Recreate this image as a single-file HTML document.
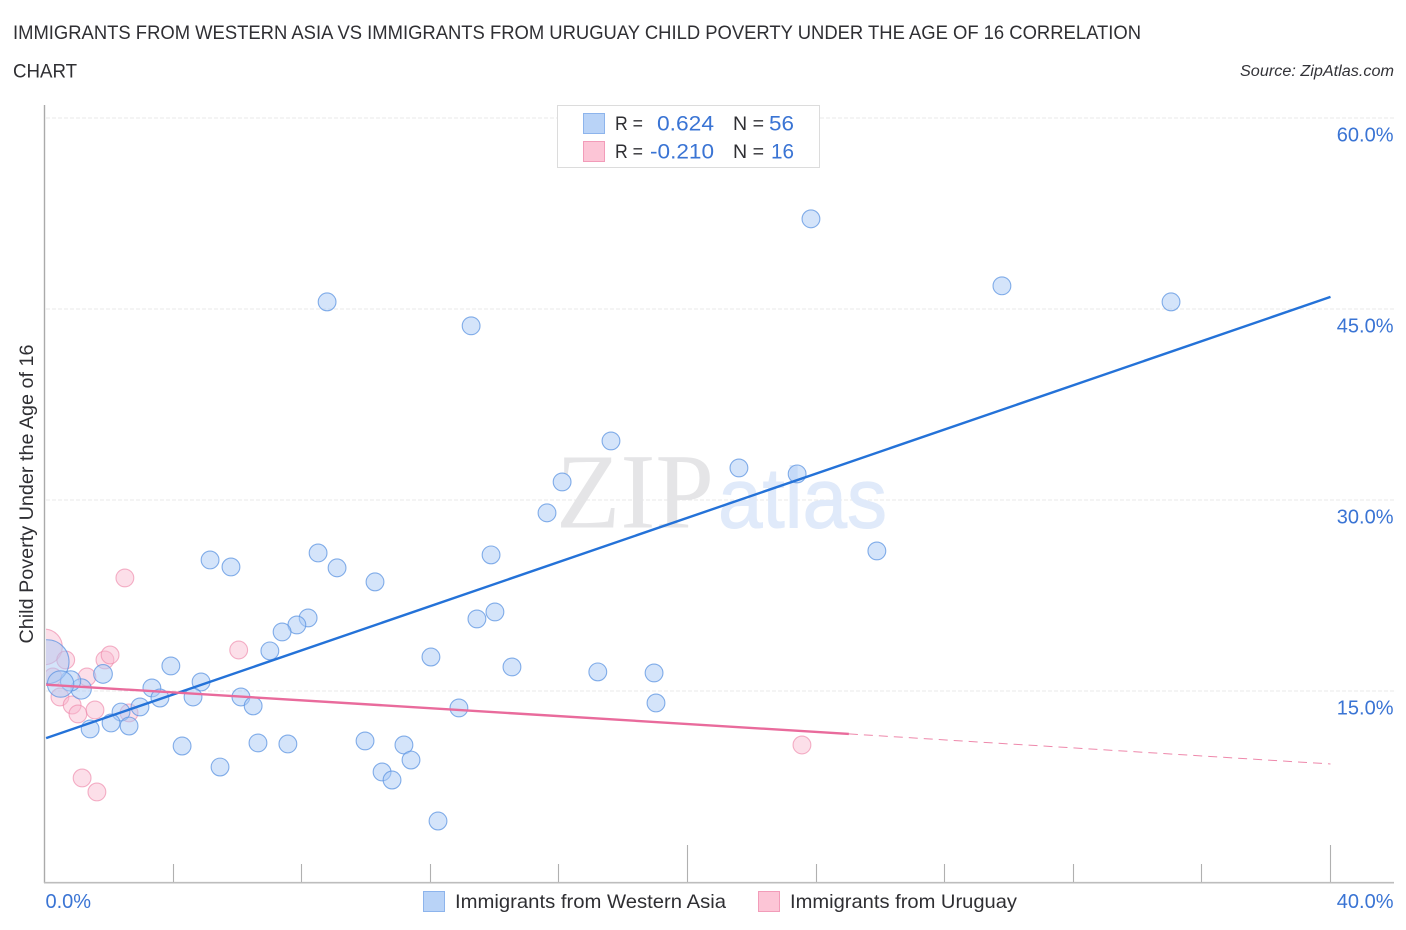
<!DOCTYPE html>
<html lang="en">
<head>
<meta charset="utf-8">
<title>Child Poverty Under the Age of 16 Correlation Chart</title>
<style>
html,body{margin:0;padding:0;background:#fff;}
body{width:1406px;height:930px;overflow:hidden;}
svg{display:block;font-family:"Liberation Sans",sans-serif;}
</style>
</head>
<body>
<svg id="chart" xmlns="http://www.w3.org/2000/svg" width="1406" height="930" viewBox="0 0 1406 930">
  <defs>
    <clipPath id="plot-clip"><rect x="46" y="100" width="1300" height="782"/></clipPath>
  </defs>
  <rect x="0" y="0" width="1406" height="930" fill="#ffffff"/>
  <text x="13" y="39" font-size="19.5" fill="#2f2f33" textLength="1128" lengthAdjust="spacingAndGlyphs">IMMIGRANTS FROM WESTERN ASIA VS IMMIGRANTS FROM URUGUAY CHILD POVERTY UNDER THE AGE OF 16 CORRELATION</text>
  <text x="13" y="77.5" font-size="19.5" fill="#2f2f33" textLength="64" lengthAdjust="spacingAndGlyphs">CHART</text>
  <text x="1394" y="76" font-size="15.5" font-style="italic" fill="#333338" text-anchor="end" textLength="154" lengthAdjust="spacingAndGlyphs">Source: ZipAtlas.com</text>

  <g id="grid"></g>

  <g>
    <text x="556" y="527.5" font-family="'Liberation Serif',serif" font-size="107" fill="#e5e5e7" textLength="158" lengthAdjust="spacingAndGlyphs">ZIP</text>
    <text x="718" y="527.5" font-size="85" fill="#e0eafa" stroke="#e0eafa" stroke-width="1" textLength="169" lengthAdjust="spacingAndGlyphs">atlas</text>
  </g>

  <g id="axes"></g>
  <g id="points" clip-path="url(#plot-clip)"></g>
  <g id="trends"></g>
  <g id="tick-labels"></g>

  <text transform="translate(33,494) rotate(-90)" font-size="19" fill="#2f2f33" text-anchor="middle" textLength="299" lengthAdjust="spacingAndGlyphs">Child Poverty Under the Age of 16</text>

  <g>
    <rect x="557.5" y="105.5" width="262" height="62" fill="#ffffff" stroke="#dcdcdc" stroke-width="1"/>
    <rect x="583.5" y="113.5" width="21" height="20" fill="#b9d3f7" stroke="#8db4ec"/>
    <rect x="583.5" y="141.5" width="21" height="20" fill="#fcc5d6" stroke="#f29cb9"/>
    <text x="615" y="130" font-size="19.5" fill="#2f2f33" textLength="28" lengthAdjust="spacingAndGlyphs">R =</text>
    <text x="714" y="130.5" font-size="21.5" fill="#3a74d4" text-anchor="end" textLength="57" lengthAdjust="spacingAndGlyphs">0.624</text>
    <text x="733" y="130" font-size="19.5" fill="#2f2f33" textLength="31" lengthAdjust="spacingAndGlyphs">N =</text>
    <text x="794" y="130.5" font-size="21.5" fill="#3a74d4" text-anchor="end" textLength="25" lengthAdjust="spacingAndGlyphs">56</text>
    <text x="615" y="158" font-size="19.5" fill="#2f2f33" textLength="28" lengthAdjust="spacingAndGlyphs">R =</text>
    <text x="714" y="158.5" font-size="21.5" fill="#3a74d4" text-anchor="end" textLength="64" lengthAdjust="spacingAndGlyphs">-0.210</text>
    <text x="733" y="158" font-size="19.5" fill="#2f2f33" textLength="31" lengthAdjust="spacingAndGlyphs">N =</text>
    <text x="794" y="158.5" font-size="21.5" fill="#3a74d4" text-anchor="end" textLength="23" lengthAdjust="spacingAndGlyphs">16</text>
  </g>

  <g>
    <rect x="423.5" y="891.5" width="21" height="20" fill="#b9d3f7" stroke="#8db4ec"/>
    <text x="455" y="908" font-size="19.5" fill="#2f2f33" textLength="271" lengthAdjust="spacingAndGlyphs">Immigrants from Western Asia</text>
    <rect x="758.5" y="891.5" width="21" height="20" fill="#fcc5d6" stroke="#f29cb9"/>
    <text x="790" y="908" font-size="19.5" fill="#2f2f33" textLength="227" lengthAdjust="spacingAndGlyphs">Immigrants from Uruguay</text>
  </g>
</svg>

<script>
// Chart data (x and y in percent; weights are relative sample sizes)
const xTicks = [4, 8, 12, 16, 20, 24, 28, 32, 36, 40];
const xMajorTicks = [20, 40];
const xTickLabels = ["0.0%", "40.0%"];
const xLabelValues = [0, 40];
const yGridValues = [15, 30, 45, 60];
const yTickLabels = ["15.0%", "30.0%", "45.0%", "60.0%"];

const westernAsiaX = [23.84,29.78,35.04,8.79,13.27,17.62,21.60,23.41,16.10,15.63,25.89,13.89,8.51,5.15,5.80,9.10,10.28,14.01,13.45,8.20,7.85,7.39,7.01,12.02,14.54,17.21,18.96,3.93,1.82,4.87,3.34,1.14,0.81,4.62,3.59,6.11,6.49,2.97,2.38,12.89,19.02,2.07,2.63,1.42,4.28,6.64,7.57,9.97,11.18,11.40,10.50,10.81,5.46,12.24,0.08,0.50];
const westernAsiaY = [52.08,46.82,45.56,45.56,43.68,34.64,32.52,32.05,31.42,28.99,26.00,25.69,25.84,25.29,24.74,24.67,23.57,21.21,20.66,20.74,20.19,19.64,18.15,17.67,16.89,16.50,16.42,16.97,16.34,15.71,15.24,15.16,15.79,14.53,14.45,14.53,13.83,13.75,13.35,13.67,14.06,12.49,12.25,12.02,10.68,10.92,10.84,11.08,10.76,9.58,8.64,8.01,9.03,4.79,17.30,15.55];
const westernAsiaWeight = [1,1,1,1,1,1,1,1,1,1,1,1,1,1,1,1,1,1,1,1,1,1,1,1,1,1,1,1,1.1,1,1,1.3,1.3,1,1,1,1,1,1,1,1,1,1,1,1,1,1,1,1,1,1,1,1,1,6.1,2.2];

const uruguayX = [0.00,0.66,0.26,0.48,1.32,0.86,1.04,1.57,2.63,1.88,2.04,6.04,1.17,1.63,2.50,23.56];
const uruguayY = [18.46,17.44,16.10,14.53,16.10,13.90,13.20,13.51,13.28,17.44,17.83,18.22,8.17,7.07,23.88,10.76];
const uruguayWeight = [4,1,1,1,1,1,1,1,1,1,1,1,1,1,1,1];

const westernAsiaTrendX = [0.05, 40];
const westernAsiaTrendY = [11.3, 45.95];
const uruguayTrendX = [0.05, 25.02];
const uruguayTrendY = [15.5, 11.63];
const uruguayDashX = [25.02, 40];
const uruguayDashY = [11.63, 9.27];

// Axis functions
function xScale(v) { return 44.5 + v * 32.15; }
function yScale(v) { return 882 - v * 12.733; }
function radius(w) { return 8.9 * Math.sqrt(w); }

const NS = "http://www.w3.org/2000/svg";
function make(tag, attrs, parent) {
  const el = document.createElementNS(NS, tag);
  for (const k in attrs) el.setAttribute(k, attrs[k]);
  parent.appendChild(el);
  return el;
}

const gridG = document.getElementById("grid");
const axesG = document.getElementById("axes");
const pointsG = document.getElementById("points");
const trendsG = document.getElementById("trends");
const labelsG = document.getElementById("tick-labels");

// Grid lines and y labels
yGridValues.forEach(function (v, i) {
  const line = make("line", {x1: 46, x2: 1394, y1: yScale(v), y2: yScale(v), stroke: "#e8e8e8", "stroke-width": 1, "stroke-dasharray": "4 2"}, gridG);
  
  
  const t = make("text", {x: 1393.5, y: yScale(v) + 23.5, "font-size": 20, fill: "#3a74d4", "text-anchor": "end"}, labelsG);
  
  
  t.textContent = yTickLabels[i];
});

// Axes
const yAxis = make("line", {x1: 44.5, x2: 44.5, y1: 105, y2: 883, stroke: "#aaaaaa", "stroke-width": 1.4}, axesG);


const xAxis = make("line", {x1: 44, x2: 1394, y1: 882.7, y2: 882.7, stroke: "#bdbdbd", "stroke-width": 1.6}, axesG);


xTicks.forEach(function (v) {
  const top = xMajorTicks.indexOf(v) >= 0 ? 845 : 864;
  const px = Math.floor(xScale(v)) + 0.5;
  const tick = make("line", {x1: px, x2: px, y1: top, y2: 882, stroke: "#b0b0b0", "stroke-width": 1.1}, axesG);
  
  
});
xLabelValues.forEach(function (v, i) {
  const t = make("text", {x: i === 0 ? xScale(v) + 1 : 1393.5, y: 908, "font-size": 20, fill: "#3a74d4", "text-anchor": i === 0 ? "start" : "end"}, labelsG);
  
  
  t.textContent = xTickLabels[i];
});

// Points
uruguayX.forEach(function (x, i) {
  const c = make("circle", {cx: xScale(x), cy: yScale(uruguayY[i]), r: radius(uruguayWeight[i]), fill: "#f9b9cf", "fill-opacity": 0.45, stroke: "#ee88ab", "stroke-opacity": 0.65, "stroke-width": 1.1}, pointsG);
  
  
});
westernAsiaX.forEach(function (x, i) {
  const c = make("circle", {cx: xScale(x), cy: yScale(westernAsiaY[i]), r: radius(westernAsiaWeight[i]), fill: "#a9c9f5", "fill-opacity": 0.5, stroke: "#5c94e2", "stroke-opacity": 0.75, "stroke-width": 1.1}, pointsG);
  
  
});

// Trend lines
const blueLine = make("line", {x1: xScale(westernAsiaTrendX[0]), y1: yScale(westernAsiaTrendY[0]), x2: xScale(westernAsiaTrendX[1]), y2: yScale(westernAsiaTrendY[1]), stroke: "#2472d8", "stroke-width": 2.4}, trendsG);


const pinkLine = make("line", {x1: xScale(uruguayTrendX[0]), y1: yScale(uruguayTrendY[0]), x2: xScale(uruguayTrendX[1]), y2: yScale(uruguayTrendY[1]), stroke: "#e96b9c", "stroke-width": 2.4}, trendsG);


const pinkDash = make("line", {x1: xScale(uruguayDashX[0]), y1: yScale(uruguayDashY[0]), x2: xScale(uruguayDashX[1]), y2: yScale(uruguayDashY[1]), stroke: "#ee88ab", "stroke-width": 1, "stroke-dasharray": "9 6"}, trendsG);


</script>
</body>
</html>
